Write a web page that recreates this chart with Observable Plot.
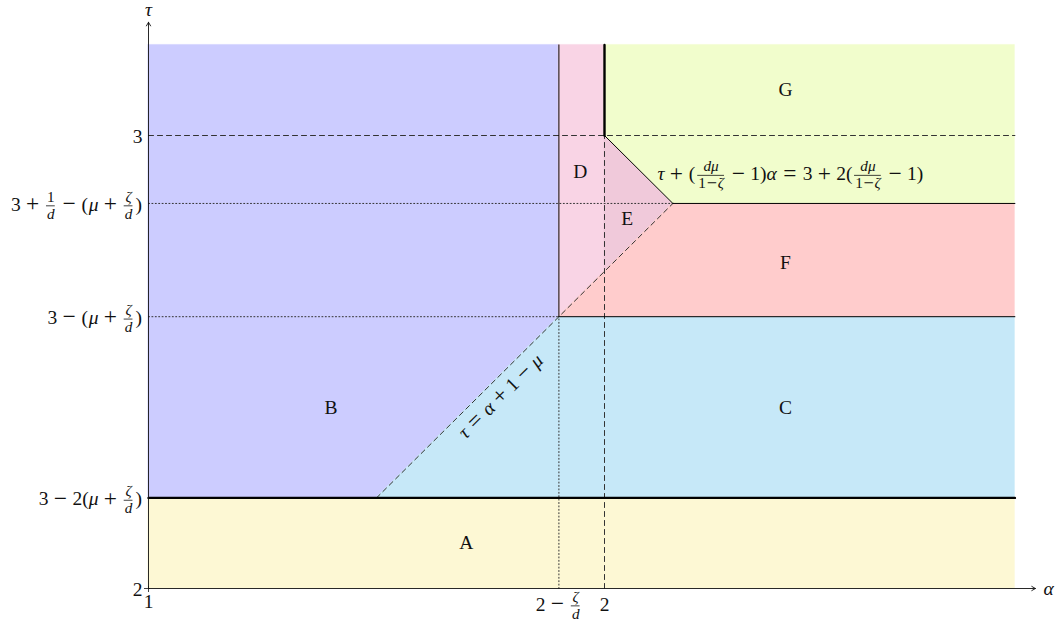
<!DOCTYPE html>
<html><head><meta charset="utf-8">
<script src="https://cdn.jsdelivr.net/npm/d3@7"></script>
<script src="https://cdn.jsdelivr.net/npm/@observablehq/plot@0.6"></script>
<style>body{margin:0;background:#fff}</style>
</head><body><div id="chart"></div>
<script>
// ---------- data ----------
const xTickValues = [1, 1.9, 2];
const xTickLabels = ["1", "2 − {ζ/d}", "2"];
const yTickValues = [2, 2.2, 2.6, 2.85, 3];
const yTickLabels = ["2", "3 − 2(μ + {ζ/d})", "3 − (μ + {ζ/d})", "3 + {1/d} − (μ + {ζ/d})", "3"];

const regionNames = ["A", "B", "C", "D", "E", "F", "G"];
const regionColors = ["#fdf8d4", "#ccccff", "#c6e8f8", "#f9d4e5", "#f0c9da", "#ffcccc", "#f1fdcc"];
// each region: [α, τ lower, τ upper]
const regionA = [[1, 2, 2.2], [2.9, 2, 2.2]];
const regionB = [[1, 2.2, 3.2], [1.5, 2.2, 3.2], [1.9, 2.6, 3.2]];
const regionC = [[1.5, 2.2, 2.2], [1.9, 2.2, 2.6], [2.9, 2.2, 2.6]];
const regionD = [[1.9, 2.6, 3.2], [2, 2.7, 3.2]];
const regionE = [[2, 2.7, 3], [2.15, 2.85, 2.85]];
const regionF = [[1.9, 2.6, 2.6], [2.15, 2.6, 2.85], [2.9, 2.6, 2.85]];
const regionG = [[2, 3, 3.2], [2.15, 2.85, 3.2], [2.9, 2.85, 3.2]];
const regionLabelX = [1.697, 1.40, 2.397, 1.947, 2.05, 2.397, 2.397];
const regionLabelY = [2.10, 2.40, 2.40, 2.92, 2.817, 2.72, 3.10];

const thickLines = [[[1, 2.2], [2.9, 2.2]], [[2, 3], [2, 3.2]]];
const thinLines = [[[1.9, 2.6], [1.9, 3.2]], [[1.9, 2.6], [2.9, 2.6]], [[2, 3], [2.15, 2.85], [2.9, 2.85]]];
const dashedLines = [[[1, 3], [2.9, 3]], [[2, 2], [2, 3]], [[1.5, 2.2], [2.15, 2.85]]];
const dottedLines = [[[1.9, 2], [1.9, 2.6]], [[1, 2.6], [1.9, 2.6]], [[1, 2.85], [2.15, 2.85]]];

const axisLines = [[1, 2, 2.945, 2], [1, 2, 1, 3.25]];
const axisNames = ["α", "τ"];
const axisNameX = [2.974, 1];
const axisNameY = [2, 3.277];

const eqLabel = "τ + ({dμ/1−ζ} − 1)α = 3 + 2({dμ/1−ζ} − 1)";
const eqAnchor = [2.116, 2.915];
const diagLabel = "τ = α + 1 − μ";
const diagAnchor = [1.772, 2.424];

// ---------- math text layout (TeX-like spacing) ----------
const FONT = "Liberation Serif";
const S = 19.5;
const SCRIPT = 0.78;
const OPSCALE = 1.2;
const ctx = document.createElement("canvas").getContext("2d");
function measure(s, size, it) {
  ctx.font = `${it ? "italic " : ""}${size}px "${FONT}"`;
  return ctx.measureText(s).width;
}
const LETTER = /^[A-Za-zα-ωΑ-Ω]/;
const OP = /^[+−=]$/;
function runTokens(str) { return str.match(/[A-Za-zα-ωΑ-Ω]+|\s+|[+−=]|[^A-Za-zα-ωΑ-Ω\s+−=]+/g) || []; }
function tokenAdvance(t, size, script) {
  if (OP.test(t)) {
    const gap = script ? 0 : (t === "=" ? 0.278 : 0.222);
    return (0.778 + 2 * gap) * size;
  }
  if (/^\s/.test(t)) return 0;
  if (t === "(" || t === ")") return 0.389 * size;
  return measure(t, size, LETTER.test(t));
}
function runsWidth(str, size, script) {
  return runTokens(str).reduce((w, t) => w + tokenAdvance(t, size, script), 0);
}
function layoutRuns(str, size, pieces, x, dy, script) {
  for (const t of runTokens(str)) {
    const it = LETTER.test(t);
    const adv = tokenAdvance(t, size, script);
    if (!/^\s/.test(t)) {
      const op = OP.test(t);
      const gsize = op ? size * OPSCALE : size;
      const gw = measure(t, gsize, it);
      const centered = op || t === "(" || t === ")";
      pieces.push({s: t, it, size: gsize, x: x + (centered ? (adv - gw) / 2 : 0),
        dy: dy + (op ? 0.32 * size - 0.32 * gsize + 0.02 * size : 0)});
    }
    x += adv;
  }
  return x;
}
function layout(str, size) {
  const pieces = [], bars = [];
  let x = 0;
  const s = SCRIPT * size;
  for (const part of str.split(/(\{[^}]*\})/)) {
    if (!part) continue;
    if (part.startsWith("{")) {
      const [num, den] = part.slice(1, -1).split("/");
      const nw = runsWidth(num, s, true), dw = runsWidth(den, s, true);
      const w = Math.max(nw, dw) + 0.06 * size;
      x += 0.1 * size;
      layoutRuns(num, s, pieces, x + (w - nw) / 2, 0.32 * size - 0.45 * size - 0.32 * s, true);
      layoutRuns(den, s, pieces, x + (w - dw) / 2, 0.32 * size + 0.42 * size - 0.32 * s, true);
      bars.push({x0: x, x1: x + w, dy: 0.07 * size});
      x += w + 0.1 * size;
    } else {
      x = layoutRuns(part, size, pieces, x, 0, false);
    }
  }
  return {pieces, bars, width: x};
}
function mathLabel(ax, ay, str, {align = "start", ox = 0, oy = 0, rotate = 0, size = S} = {}) {
  const L = layout(str, size);
  const shift = align === "end" ? -L.width : align === "middle" ? -L.width / 2 : 0;
  const th = rotate * Math.PI / 180;
  const marks = [];
  for (const p of L.pieces) {
    const u = p.x + shift;
    marks.push(Plot.text([0], {
      x: ax, y: ay, text: [p.s],
      dx: ox + u * Math.cos(th) - p.dy * Math.sin(th),
      dy: oy + u * Math.sin(th) + p.dy * Math.cos(th),
      rotate, fontSize: p.size, fontStyle: p.it ? "italic" : "normal",
      fontFamily: FONT, textAnchor: "start", lineAnchor: "middle", fill: "#111"
    }));
  }
  for (const b of L.bars) {
    marks.push(Plot.ruleY([ay], {
      x1: ax, x2: ax, insetLeft: ox + shift + b.x0, insetRight: -(ox + shift + b.x1),
      dy: oy + b.dy, stroke: "#111", strokeWidth: 0.8
    }));
  }
  return marks;
}

// ---------- marks ----------
const regions = [regionA, regionB, regionC, regionD, regionE, regionF, regionG];
const regionMarks = regions.map((r, i) => Plot.areaY(r, {
  x: d => d[0], y1: d => d[1], y2: d => d[2], fill: regionColors[i], stroke: regionColors[i], strokeWidth: 0.5
}));
function flat(lines) { return lines.flatMap((l, k) => l.map(p => ({x: p[0], y: p[1], k}))); }
const lineMark = (lines, opts) => Plot.line(flat(lines), {x: "x", y: "y", z: "k", stroke: "#000", ...opts});

const marks = [
  ...regionMarks,
  lineMark(dottedLines, {strokeWidth: 1, strokeDasharray: "1,2.4", stroke: "#333"}),
  lineMark(dashedLines, {strokeWidth: 1, strokeDasharray: "5,4", stroke: "#333"}),
  lineMark(thinLines, {strokeWidth: 1}),
  lineMark(thickLines, {strokeWidth: 2.4}),
  Plot.arrow(axisLines, {x1: d => d[0], y1: d => d[1], x2: d => d[2], y2: d => d[3], headLength: 7, strokeWidth: 0.9, stroke: "#111"}),
  Plot.ruleY([yTickValues[0]], {x1: xTickValues[0], x2: xTickValues[0], insetLeft: -4, insetRight: -2, stroke: "#111", strokeWidth: 0.8}),
  Plot.ruleX([xTickValues[0]], {y1: yTickValues[0], y2: yTickValues[0], insetTop: -2, insetBottom: -4, stroke: "#111", strokeWidth: 0.8}),
  Plot.text(regionNames, {x: (d, i) => regionLabelX[i], y: (d, i) => regionLabelY[i], text: d => d,
    fontSize: S, fontFamily: FONT, fill: "#111", lineAnchor: "middle"}),
  ...axisNames.flatMap((n, i) => mathLabel(axisNameX[i], axisNameY[i], n, {align: "middle"})),
  ...yTickValues.flatMap((v, i) => mathLabel(xTickValues[0], v, yTickLabels[i], {align: "end", ox: -6, oy: 1})),
  ...xTickValues.flatMap((v, i) => mathLabel(v, yTickValues[0], xTickLabels[i], {align: "middle", oy: i === 0 ? 13 : 16})),
  ...mathLabel(eqAnchor[0], eqAnchor[1], eqLabel, {align: "start"}),
  ...mathLabel(diagAnchor[0], diagAnchor[1], diagLabel, {align: "middle", rotate: -44.8})
];

const chart = Plot.plot({
  width: 1060, height: 628, margin: 0,
  x: {domain: [1, 2], range: [148, 604], axis: null},
  y: {domain: [2, 3], range: [588, 135], axis: null},
  style: {background: "#fff", fontFamily: FONT},
  marks
});
document.getElementById("chart").appendChild(chart);
</script>
</body></html>
